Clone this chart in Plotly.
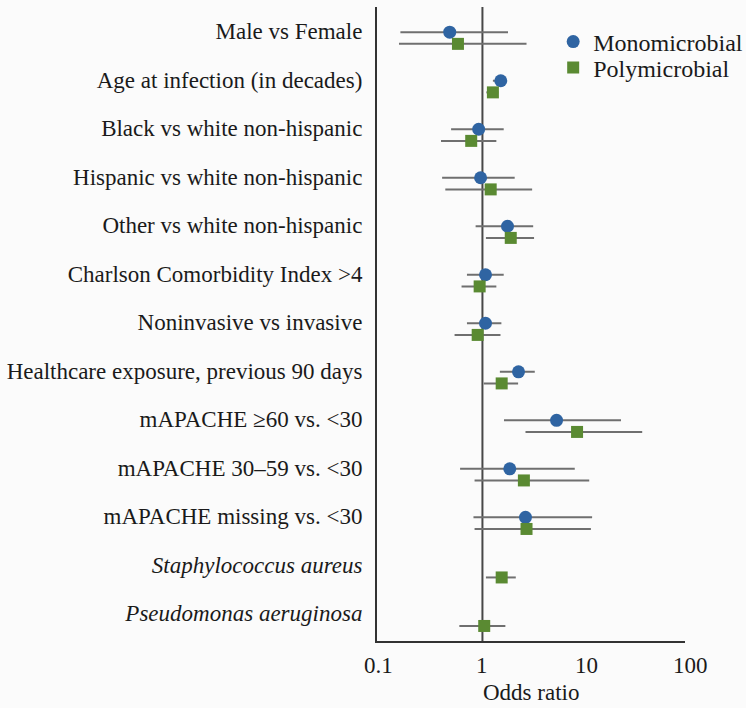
import math
import plotly.graph_objects as go

categories = [
    "Male vs Female",
    "Age at infection (in decades)",
    "Black vs white non-hispanic",
    "Hispanic vs white non-hispanic",
    "Other vs white non-hispanic",
    "Charlson Comorbidity Index >4",
    "Noninvasive vs invasive",
    "Healthcare exposure, previous 90 days",
    "mAPACHE ≥60 vs. <30",
    "mAPACHE 30–59 vs. <30",
    "mAPACHE missing vs. <30",
    "<i>Staphylococcus aureus</i>",
    "<i>Pseudomonas aeruginosa</i>",
]

mono_or = [0.485, 1.50, 0.92, 0.96, 1.74, 1.07, 1.07, 2.22, 5.15, 1.83, 2.59, None, None]
mono_lo = [0.163, 1.26, 0.50, 0.41, 0.86, 0.71, 0.71, 1.47, 1.61, 0.61, 0.82, None, None]
mono_hi = [1.76, 1.70, 1.60, 2.04, 3.07, 1.60, 1.52, 3.18, 21.4, 7.7, 11.3, None, None]

poly_or = [0.582, 1.26, 0.78, 1.20, 1.87, 0.94, 0.90, 1.53, 8.1, 2.50, 2.65, 1.53, 1.04]
poly_lo = [0.158, 1.09, 0.40, 0.44, 1.08, 0.63, 0.54, 1.03, 2.59, 0.84, 0.84, 1.08, 0.60]
poly_hi = [2.65, 1.42, 1.36, 3.00, 3.13, 1.36, 1.49, 2.20, 34.2, 10.6, 11.0, 2.09, 1.66]

tick_values = [0.1, 1, 10, 100]
tick_labels = ["0.1", "1", "10", "100"]

FONT = "Liberation Serif"
BLUE = "#2f64a2"
GREEN = "#5a8a32"
ERR = "#6f6f6f"
TXT = "#1a1a1a"
XRANGE = [-1.0125, 1.945]

rows = list(range(len(categories)))


def errs(o, lo, hi):
    plus = [None if v is None else h - v for v, h in zip(o, hi)]
    minus = [None if v is None else v - l for v, l in zip(o, lo)]
    return plus, minus


mp, mm = errs(mono_or, mono_lo, mono_hi)
pp, pm = errs(poly_or, poly_lo, poly_hi)

fig = go.Figure()
fig.add_trace(go.Scatter(
    x=mono_or, y=[r - 0.12 for r in rows], mode="markers", name="Monomicrobial",
    marker=dict(symbol="circle", size=13, color=BLUE), legend="legend",
    error_x=dict(type="data", symmetric=False, array=mp, arrayminus=mm,
                 color=ERR, thickness=2, width=0),
))
fig.add_trace(go.Scatter(
    x=poly_or, y=[r + 0.12 for r in rows], mode="markers", name="Polymicrobial",
    marker=dict(symbol="square", size=12, color=GREEN), legend="legend2",
    error_x=dict(type="data", symmetric=False, array=pp, arrayminus=pm,
                 color=ERR, thickness=2, width=0),
))

# reference line at OR = 1
fig.add_shape(type="line", xref="x", yref="paper", x0=1, x1=1, y0=0, y1=1,
              line=dict(color="#474747", width=2), layer="below")

# x tick labels (paper coords derived from log-axis values)
for v, t in zip(tick_values, tick_labels):
    px = (math.log10(v) - XRANGE[0]) / (XRANGE[1] - XRANGE[0])
    fig.add_annotation(x=px, y=-0.039, xref="paper", yref="paper",
                       text=t, showarrow=False, yanchor="middle", xanchor="center",
                       font=dict(family=FONT, size=23, color=TXT))
fig.add_annotation(x=0.5, y=-0.082, xref="paper", yref="paper", text="Odds ratio",
                   showarrow=False, yanchor="middle", xanchor="center",
                   font=dict(family=FONT, size=23, color=TXT))

leg_common = dict(xanchor="left", yanchor="middle", bgcolor="rgba(0,0,0,0)",
                  font=dict(family=FONT, size=24, color=TXT), itemwidth=30)

fig.update_layout(
    width=746, height=708,
    margin=dict(l=377, r=61, t=7, b=67, pad=0, autoexpand=False),
    paper_bgcolor="#fbfbfb", plot_bgcolor="#fbfbfb",
    font=dict(family=FONT, size=23, color=TXT),
    showlegend=True,
    legend=dict(x=0.572, y=1 - (42 - 7) / 634, **leg_common),
    legend2=dict(x=0.572, y=1 - (68 - 7) / 634, **leg_common),
    xaxis=dict(type="log", range=XRANGE, showgrid=False, zeroline=False,
               showticklabels=False, ticks="", showline=True, linecolor="#333333",
               linewidth=2),
    yaxis=dict(range=[12.43, -0.64], showgrid=False, zeroline=False,
               tickmode="array", tickvals=[r - 0.14 for r in rows], ticktext=categories,
               ticks="", showline=True, linecolor="#333333", linewidth=2,
               ticklabelstandoff=8, automargin=False,
               tickfont=dict(family=FONT, size=23, color=TXT)),
)

fig.write_html("out.html", config={"displayModeBar": False},
               post_script="document.body.style.margin='0';")
